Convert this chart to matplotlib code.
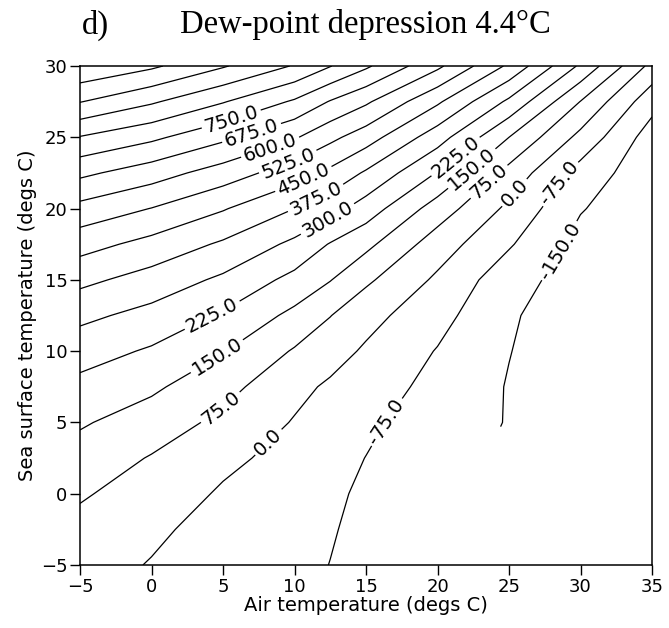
import numpy as np
import matplotlib
matplotlib.use("Agg")
import matplotlib.pyplot as plt

# Air temperature (columns) and sea surface temperature (rows), degs C
air_temp = [-5, 0, 5, 10, 12.5, 15, 20, 25, 30, 35]
sst = [-5, -2.5, 0, 2.5, 5, 7.5, 10, 12.5, 15, 17.5, 20, 22.5, 25, 27.5, 30]

nan = np.nan
# Flux values, one list per air temperature column,
# from sst = -5 (bottom) to sst = 30 (top). nan = outside computed region.
flux_ta_m5 = [22, 51, 84, 120, 158, 204, 257, 318, 394, 479, 576, 692, 821, 978, 1115]
flux_ta_0 = [-3, 10, 38, 70, 115, 163, 216, 276, 345, 426, 523, 635, 766, 910, 1063]
flux_ta_5 = [-32, -20, -8, 15, 57, 100, 154, 216, 286, 364, 456, 565, 692, 830, 982]
flux_ta_10 = [-57, -47, -33, -22, -5, 20, 68, 131, 203, 283, 375, 485, 608, 740, 894]
flux_ta_12_5 = [-76, -70, -61, -53, -34, -11, 29, 77, 153, 220, 329, 432, 544, 670, 828]
flux_ta_15 = [-95, -92, -88, -76, -62, -34, -10, 25, 88, 169, 265, 365, 485, 612, 762]
flux_ta_20 = [nan, nan, -134, -120, -110, -100, -79, -49, -13, 37, 115, 221, 333, 462, 616]
flux_ta_25 = [nan, nan, nan, nan, -154, -154, -148, -142, -120, -67, -17, 50, 150, 285, 436]
flux_ta_30 = [nan, nan, nan, nan, nan, nan, -195, -190, -185, -175, -145, -105, -21, 73, 212]
flux_ta_35 = [nan, nan, nan, nan, nan, nan, nan, nan, -210, -208, -205, -200, -186, -123, -23]

levels = np.arange(-150, 1051, 75)

# where the contour labels sit (data coords)
label_spots = [
    (5.6, 26.2), (7.0, 25.3), (8.3, 24.3), (9.6, 23.1), (10.7, 21.9),
    (11.5, 20.7), (12.4, 19.1),
    (4.3, 12.4), (4.6, 9.6), (4.8, 6.1), (8.0, 3.8), (16.2, 5.2),
    (21.3, 23.6), (22.4, 22.8), (23.5, 22.0), (25.4, 21.1),
    (28.5, 21.8), (28.6, 17.0),
]

columns = [flux_ta_m5, flux_ta_0, flux_ta_5, flux_ta_10, flux_ta_12_5,
           flux_ta_15, flux_ta_20, flux_ta_25, flux_ta_30, flux_ta_35]
flux = np.ma.masked_invalid(np.array(columns, dtype=float).T)

plt.rcParams["font.family"] = "DejaVu Sans"

fig = plt.figure(figsize=(6.69, 6.28), dpi=100)
ax = fig.add_axes([0.1196, 0.1003, 0.855, 0.7946])

cs = ax.contour(air_temp, sst, flux, levels=levels, colors="black",
                linewidths=0.9, linestyles="solid")
ax.clabel(cs, manual=label_spots, fmt="%.1f", fontsize=14,
          inline=True, inline_spacing=3)

ax.set_xlim(-5, 35)
ax.set_ylim(-5, 30)
ax.set_xticks(np.arange(-5, 36, 5))
ax.set_yticks(np.arange(-5, 31, 5))
ax.tick_params(direction="out", length=7, width=1, labelsize=13,
               top=False, right=False, pad=2)
for sp in ax.spines.values():
    sp.set_linewidth(1.1)

ax.set_xlabel("Air temperature (degs C)", fontsize=14, labelpad=0)
ax.set_ylabel("Sea surface temperature (degs C)", fontsize=14, labelpad=3)

# Title in a Times-like serif
fig.text(0.122, 0.947, "d)", fontsize=23.5, family="Liberation Serif", va="baseline")
fig.text(0.269, 0.947, "Dew-point depression 4.4\u00b0C", fontsize=23.5,
         family="Liberation Serif", va="baseline")

fig.savefig("out.png", dpi=100)
plt.close(fig)
